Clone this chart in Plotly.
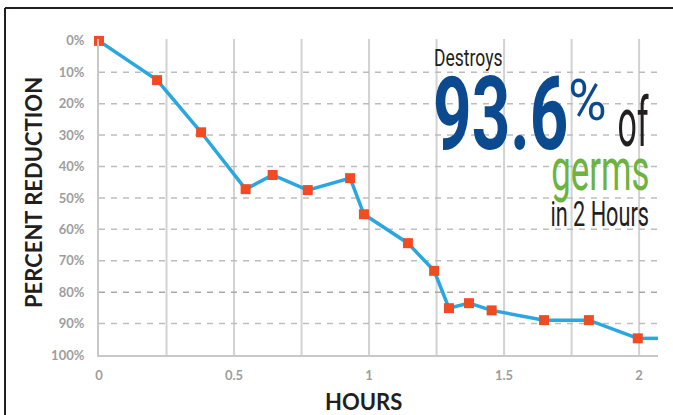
import plotly.graph_objects as go

# ---- data ----
hours = [0.0, 0.215, 0.378, 0.543, 0.643, 0.773, 0.930, 0.981, 1.144, 1.241,
         1.296, 1.370, 1.454, 1.648, 1.814, 1.995]
reduction = [0.0, 12.5, 29.1, 47.2, 42.7, 47.5, 43.7, 55.2, 64.4, 73.2,
             85.1, 83.5, 85.8, 88.9, 88.9, 94.7]
tail_hours = [1.995, 2.07]
tail_reduction = [94.7, 94.7]

x_tickvals = [0, 0.5, 1, 1.5, 2]
x_ticktext = ["0", "0.5", "1", "1.5", "2"]
x_gridvals = [0.25, 0.5, 0.75, 1.0, 1.25, 1.5, 1.75, 2.0]
y_tickvals = [0, 10, 20, 30, 40, 50, 60, 70, 80, 90, 100]
y_ticktext = [f"{v}%" for v in y_tickvals]

W, H = 673, 415
L, R, T, B = 99, 658, 39, 355
PW, PH = R - L, B - T


def px(x):
    return (x - L) / PW


def py(y):
    return (B - y) / PH


BLUE_LINE = "#2aa7e1"
MARKER = "#f04b23"
GRAY_TXT = "#9d9d9d"
DARK = "#231f20"
NAVY = "#0b4a8e"
GREEN = "#6cb33f"
COND = "Roboto, Liberation Sans, sans-serif"
GEO = "Lato, Century Gothic, sans-serif"

fig = go.Figure()
fig.add_trace(go.Scatter(x=tail_hours, y=tail_reduction, mode="lines",
                         line=dict(color=BLUE_LINE, width=3.5),
                         hoverinfo="skip", showlegend=False))
fig.add_trace(go.Scatter(x=hours, y=reduction, mode="lines+markers",
                         line=dict(color=BLUE_LINE, width=3.5),
                         marker=dict(symbol="square", size=10, color=MARKER),
                         showlegend=False, cliponaxis=False))

shapes = []
for gx in x_gridvals:
    shapes.append(dict(type="line", xref="x", yref="paper", x0=gx, x1=gx, y0=0, y1=1,
                       line=dict(color="#d2d2d2", width=2), layer="below"))
for gy in y_tickvals[1:-1]:
    shapes.append(dict(type="line", xref="paper", yref="y", x0=0, x1=1, y0=gy, y1=gy,
                       line=dict(color="#a8a8a8" if gy == 80 else "#bdbdbd",
                                 width=1.5, dash="6px,6px"), layer="below"))
# outer frame (top and left edges visible), kept inside the page
shapes.append(dict(type="line", xref="paper", yref="paper", x0=px(5), x1=px(W),
                   y0=py(8), y1=py(8), line=dict(color=DARK, width=2)))
shapes.append(dict(type="line", xref="paper", yref="paper", x0=px(5), x1=px(5),
                   y0=py(8), y1=py(H), line=dict(color=DARK, width=2)))


def ann(text, x, y, size, color, xanchor="center", weight="normal", family=COND, angle=0):
    return dict(text=text, x=px(x), y=py(y), xref="paper", yref="paper",
                xanchor=xanchor, yanchor="middle", showarrow=False, textangle=angle,
                font=dict(family=family, size=size, color=color, weight=weight))


annotations = [
    ann("<b>PERCENT REDUCTION</b>", 33, 193, 22, DARK, family=GEO, angle=-90),
    ann("<b>HOURS</b>", 363, 402, 22, DARK, family=GEO),
    ann("Destroys", 432, 58, 24, DARK, xanchor="left"),
    ann("93.6", 431, 114, 102, NAVY, xanchor="left", weight="bold"),
    ann("%", 608, 100, 58, NAVY, xanchor="right"),
    ann("of", 651, 123, 68, DARK, xanchor="right"),
    ann("germs", 651, 169, 60, GREEN, xanchor="right"),
    ann("in 2 Hours", 651, 214, 35, DARK, xanchor="right"),
]

fig.update_layout(
    width=W, height=H,
    margin=dict(l=L, r=W - R, t=T, b=H - B, pad=0),
    paper_bgcolor="white", plot_bgcolor="white",
    shapes=shapes, annotations=annotations,
    xaxis=dict(range=[0, 2.07], tickvals=x_tickvals,
               ticktext=[f"<b>{t}</b>" for t in x_ticktext],
               showgrid=False, zeroline=False, showline=True, linecolor="#c8c8c8",
               linewidth=2, ticks="", ticklabelstandoff=7,
               tickfont=dict(family=GEO, size=13, color=GRAY_TXT)),
    yaxis=dict(range=[100, -0.6], tickvals=y_tickvals,
               ticktext=[f"<b>{t}</b>" for t in y_ticktext],
               showgrid=False, zeroline=False, showline=True, linecolor="#c8c8c8",
               linewidth=2, ticks="", ticklabelstandoff=10,
               tickfont=dict(family=GEO, size=13, color=GRAY_TXT)),
)

# horizontal condensing of the headline texts (scale, origin side)
post = """
(function(){
  document.body.style.margin='0';
  document.documentElement.style.overflow='hidden';
  document.body.style.overflow='hidden';
  var gd=document.getElementById('{plot_id}');
  var spec={'Destroys':[0.73,'0%'],'93.6':[0.66,'0%'],'%':[0.9,'100%'],
            'of':[0.5,'100%'],'germs':[0.58,'100%'],'in 2 Hours':[0.62,'100%']};
  function squeeze(){
    gd.querySelectorAll('text.annotation-text').forEach(function(t){
      var s=spec[t.textContent];
      if(s){
        t.style.transformBox='fill-box';
        t.style.transformOrigin=s[1]+' 50%';
        t.style.transform='scaleX('+s[0]+')';
      }
    });
  }
  squeeze();
  if(gd.on){gd.on('plotly_afterplot',squeeze);}
})();
"""

fig.write_html("out.html", post_script=post, config={"displayModeBar": False})
